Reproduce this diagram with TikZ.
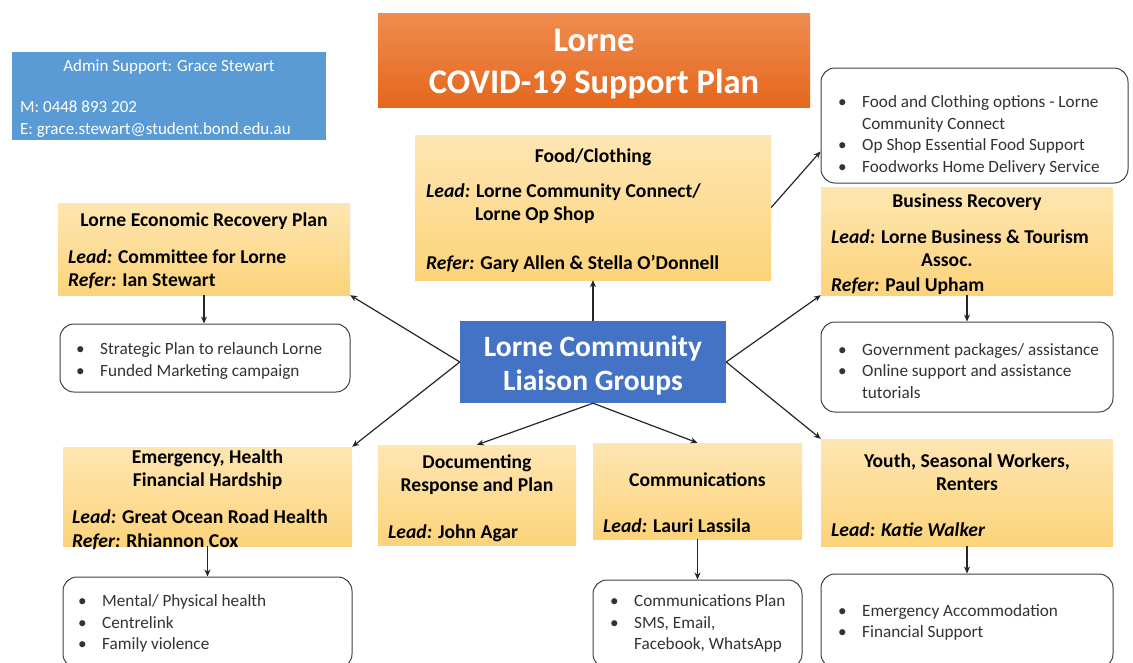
\documentclass[tikz,border=0pt]{standalone}
\usepackage{fontspec}
\setmainfont{Carlito}
\usepackage{xcolor}
\usetikzlibrary{arrows.meta, positioning, calc}

\definecolor{hubblue}{HTML}{4472C4}
\definecolor{adminblue}{HTML}{5B9BD5}
\definecolor{grptop}{HTML}{FEE6B2}
\definecolor{grpbot}{HTML}{FCD37A}
\definecolor{ttltop}{HTML}{F08C50}
\definecolor{ttlbot}{HTML}{E4671C}

\newcommand{\itm}[1]{\makebox[24pt][l]{\textbullet}#1}
\newcommand{\cont}[1]{\hspace*{24pt}#1}

\begin{document}
\begin{tikzpicture}[x=1pt, y=-1pt,
  grp/.style={rectangle, inner sep=0pt, top color=grptop, bottom color=grpbot},
  lst/.style={rectangle, rounded corners=14pt, draw=black!75, line width=1pt, fill=white, inner sep=0pt},
  hd/.style={font=\fontsize{19.6}{23}\selectfont\bfseries, align=center, inner sep=0pt, yshift=-2pt},
  ln/.style={font=\fontsize{19.6}{24}\selectfont\bfseries, align=left, anchor=west, inner sep=0pt, yshift=-2pt},
  bl/.style={font=\fontsize{17.2}{21.5}\selectfont, align=left, anchor=west, inner sep=0pt, text=black!80, yshift=-2pt},
  wt/.style={text=white, inner sep=0pt, yshift=-2pt},
  edge/.style={-{Stealth[length=7pt, width=6pt]}, line width=1.2pt, black!85}
]
\useasboundingbox (0,0) rectangle (1133,662);
\clip (0,0) rectangle (1133,662);

% header boxes
\node[fill=adminblue, inner sep=0pt, minimum width=314, minimum height=88] (admin) at (169,96) {};
\node[wt, font=\fontsize{17}{22}\selectfont] (adminT) at (169,65) {Admin Support: Grace Stewart};
\node[wt, font=\fontsize{17}{22}\selectfont, align=left, anchor=west] (adminC) at (20,117)
  {M: 0448 893 202\\E: grace.stewart@student.bond.edu.au};

\node[top color=ttltop, bottom color=ttlbot, inner sep=0pt, minimum width=432, minimum height=94] (title) at (594,60) {};
\node[wt, font=\fontsize{34.5}{42}\selectfont\bfseries, align=center] (titleT) at (594,62)
  {Lorne\\COVID-19 Support Plan};

% hub
\node[fill=hubblue, inner sep=0pt, minimum width=266, minimum height=82] (hub) at (593,362) {};
\node[wt, font=\fontsize{29.5}{34}\selectfont\bfseries, align=center] (hubT) at (593,363)
  {Lorne Community\\Liaison Groups};

% liaison groups
\node[grp, minimum width=356, minimum height=145] (food) at (593,207.5) {};
\node[hd] (foodT) at (593,155) {Food/Clothing};
\node[ln] (foodL) at (426,190) {{\itshape Lead:} Lorne Community Connect/};
\node[ln] (foodL2) at (475,213) {Lorne Op Shop};
\node[ln] (foodR) at (426,262) {{\itshape Refer:} Gary Allen \& Stella O’Donnell};

\node[grp, minimum width=292, minimum height=92] (econ) at (204,249) {};
\node[hd] (econT) at (204,219) {Lorne Economic Recovery Plan};
\node[ln] (econL) at (68,255) {{\itshape Lead:} Committee for Lorne};
\node[ln] (econR) at (68,279) {{\itshape Refer:} Ian Stewart};

\node[grp, minimum width=292, minimum height=108] (bus) at (967,241) {};
\node[hd] (busT) at (967,200) {Business Recovery};
\node[ln] (busL) at (831,235) {{\itshape Lead:} Lorne Business \& Tourism};
\node[ln] (busL2) at (921,258) {Assoc.};
\node[ln] (busR) at (831,284) {{\itshape Refer:} Paul Upham};

\node[grp, minimum width=289, minimum height=99] (emerg) at (207.5,496.5) {};
\node[hd] (emergT) at (207.5,467.5) {Emergency, Health\\Financial Hardship};
\node[ln] (emergL) at (72,515) {{\itshape Lead:} Great Ocean Road Health};
\node[ln] (emergR) at (72,540) {{\itshape Refer:} Rhiannon Cox};

\node[grp, minimum width=198, minimum height=100] (docs) at (477,495) {};
\node[hd] (docsT) at (477,473) {Documenting\\Response and Plan};
\node[ln] (docsL) at (388,531) {{\itshape Lead:} John Agar};

\node[grp, minimum width=209, minimum height=96] (comm) at (697.5,491) {};
\node[hd] (commT) at (697.5,478) {Communications};
\node[ln] (commL) at (603,524) {{\itshape Lead:} Lauri Lassila};

\node[grp, minimum width=292, minimum height=107] (youth) at (967,492.5) {};
\node[hd] (youthT) at (967,470.5) {Youth, Seasonal Workers,\\Renters};
\node[ln] (youthL) at (831,528) {{\itshape Lead: Katie Walker}};

% action lists
\node[lst, minimum width=307, minimum height=115] (foodlist) at (974.5,125.5) {};
\node[bl] (foodB) at (838,133.5) {\itm{Food and Clothing options - Lorne}\\\cont{Community Connect}\\
  \itm{Op Shop Essential Food Support}\\\itm{Foodworks Home Delivery Service}};

\node[lst, minimum width=290, minimum height=68] (econlist) at (205,358) {};
\node[bl] (econB) at (76,359) {\itm{Strategic Plan to relaunch Lorne}\\\itm{Funded Marketing campaign}};

\node[lst, minimum width=292, minimum height=90] (buslist) at (967,367) {};
\node[bl] (busB) at (838,369) {\itm{Government packages/ assistance}\\\itm{Online support and assistance}\\\cont{tutorials}};

\node[lst, minimum width=289, minimum height=91] (emerglist) at (207.5,622.5) {};
\node[bl] (emergB) at (78,621.5) {\itm{Mental/ Physical health}\\\itm{Centrelink}\\\itm{Family violence}};

\node[lst, minimum width=209, minimum height=88] (commlist) at (697.5,624) {};
\node[bl] (commB) at (610,621.5) {\itm{Communications Plan}\\\itm{SMS, Email,}\\\cont{Facebook, WhatsApp}};

\node[lst, minimum width=292, minimum height=94] (youthlist) at (967,621) {};
\node[bl] (youthB) at (838,620.5) {\itm{Emergency Accommodation}\\\itm{Financial Support}};

% connectors
\draw[edge] (hub.north) -- (food.south);
\draw[edge] (food.east) -- ($(foodlist.west)+(0,26)$);
\draw[edge] (hub.west) -- (econ.south east);
\draw[edge] (hub.west) -- (emerg.north east);
\draw[edge] (hub.east) -- (bus.south west);
\draw[edge] (hub.east) -- (youth.north west);
\draw[edge] (hub.south) -- (docs.north);
\draw[edge] (hub.south) -- (comm.north);
\foreach \a/\b in {econ/econlist, bus/buslist, emerg/emerglist, comm/commlist, youth/youthlist}
  \draw[edge] (\a.south) -- (\a.south |- \b.north);
\end{tikzpicture}
\end{document}
